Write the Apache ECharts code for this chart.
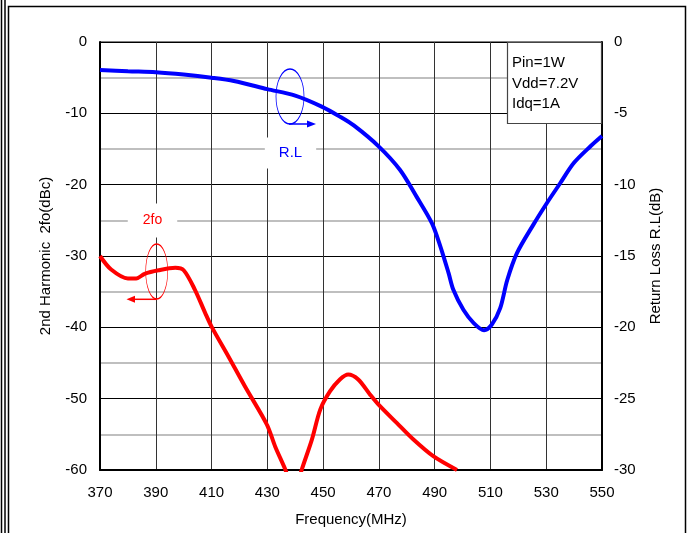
<!DOCTYPE html>
<html>
<head>
<meta charset="utf-8">
<script src="https://cdn.jsdelivr.net/npm/echarts@6/dist/echarts.min.js"></script>
<style>
  html, body { margin: 0; padding: 0; background: #fff; }
  #chart { width: 694px; height: 533px; }
</style>
</head>
<body>
<div id="chart"></div>
<script>
// Return loss R.L (dB, right axis) versus frequency (MHz)
const rlFreq = [370, 380, 390, 400, 410, 418, 430, 440, 449.5, 456, 461, 470, 477.6, 483.5, 489, 492, 495, 496.7, 500.3, 504, 507.7, 510.5, 513.5, 516, 519.5, 525.4, 530.2, 535, 539.8, 545.7, 550];
const rlValues = [-1.96, -2.05, -2.12, -2.28, -2.5, -2.73, -3.3, -3.76, -4.53, -5.23, -5.85, -7.33, -8.97, -10.84, -12.7, -14.3, -16.2, -17.37, -18.77, -19.7, -20.2, -19.8, -18.66, -16.7, -14.8, -12.8, -11.3, -9.9, -8.5, -7.34, -6.59];

// 2nd harmonic 2fo (dBc, left axis) versus frequency (MHz)
const h2Freq = [370, 374, 380, 383, 386, 391, 397, 400, 404, 407.7, 410, 416, 422, 429.8, 432.8, 436.3, 438, 439.5, 441, 442.3, 446, 449, 452.5, 456, 459, 462.6, 466.8, 469.8, 476.4, 482.3, 489.5, 498];
const h2Values = [-30.0, -31.9, -33.15, -33.15, -32.5, -32.0, -31.66, -32.0, -34.7, -37.97, -39.9, -44.05, -48.3, -53.6, -56.7, -59.8, -61.6, -62.4, -61.8, -60.0, -55.7, -51.5, -48.95, -47.3, -46.6, -47.3, -49.4, -50.8, -53.4, -55.7, -58.07, -60.0];

// Operating conditions
const conditions = ['Pin=1W', 'Vdd=7.2V', 'Idq=1A'];

const FONT = '"Liberation Sans", Arial, sans-serif';

const zip = (xs, ys) => xs.map((x, i) => [x, ys[i]]);

const chart = echarts.init(document.getElementById('chart'), null, { renderer: 'canvas' });

chart.setOption({
  animation: false,
  backgroundColor: '#fff',
  textStyle: { fontFamily: FONT, color: '#000' },
  grid: {
    left: 100, top: 42, width: 502, height: 428,
    show: true, borderColor: '#000', borderWidth: 1, backgroundColor: 'transparent'
  },
  xAxis: {
    type: 'value', min: 370, max: 550, interval: 20,
    name: 'Frequency(MHz)', nameLocation: 'middle', nameGap: 42,
    nameTextStyle: { fontFamily: FONT, fontSize: 15, color: '#000' },
    axisLine: { show: true, onZero: false, lineStyle: { color: '#000', width: 2 } },
    axisTick: { show: false },
    axisLabel: { fontFamily: FONT, fontSize: 15, color: '#000', margin: 15 },
    splitLine: { show: true, lineStyle: { color: '#333', width: 1 } }
  },
  yAxis: [
    {
      type: 'value', min: -60, max: 0, interval: 10, position: 'left',
      name: '2nd Harmonic  2fo(dBc)', nameLocation: 'middle', nameGap: 47, nameRotate: 90,
      nameTextStyle: { fontFamily: FONT, fontSize: 15, color: '#000' },
      axisLine: { show: true, onZero: false, lineStyle: { color: '#000', width: 2 } },
      axisTick: { show: false },
      axisLabel: { fontFamily: FONT, fontSize: 15, color: '#000', margin: 13 },
      splitLine: { show: true, lineStyle: { color: '#000', width: 1 } },
      minorTick: { show: false, splitNumber: 2 },
      minorSplitLine: { show: true, lineStyle: { color: '#aaa', width: 1.5 } }
    },
    {
      type: 'value', min: -30, max: 0, interval: 5, position: 'right',
      name: 'Return Loss R.L(dB)', nameLocation: 'middle', nameGap: 46, nameRotate: 90,
      nameTextStyle: { fontFamily: FONT, fontSize: 15, color: '#000' },
      axisLine: { show: true, onZero: false, lineStyle: { color: '#000', width: 2 } },
      axisTick: { show: false },
      axisLabel: { fontFamily: FONT, fontSize: 15, color: '#000', margin: 12 },
      splitLine: { show: false }
    }
  ],
  series: [
    {
      name: '2fo', type: 'line', yAxisIndex: 0, data: zip(h2Freq, h2Values),
      smooth: 0.3, showSymbol: false, clip: true,
      lineStyle: { color: '#ff0000', width: 4 }, z: 3
    },
    {
      name: 'R.L', type: 'line', yAxisIndex: 1, data: zip(rlFreq, rlValues),
      smooth: 0.3, showSymbol: false, clip: true,
      lineStyle: { color: '#0000ff', width: 4 }, z: 3
    }
  ],
  graphic: [
    // page frame
    { type: 'line', shape: { x1: 1.5, y1: 0, x2: 1.5, y2: 533 }, style: { stroke: '#000', lineWidth: 1.5 }, silent: true },
    { type: 'line', shape: { x1: 5, y1: 0, x2: 5, y2: 533 }, style: { stroke: '#000', lineWidth: 1.5 }, silent: true },
    { type: 'rect', shape: { x: 8.5, y: 6.5, width: 677, height: 560 }, style: { fill: 'none', stroke: '#000', lineWidth: 1.5 }, silent: true },

    // R.L label with its marker ellipse and arrow
    { type: 'text', x: 290.5, y: 153, z: 10,
      style: { text: 'R.L', fill: '#0000ff', font: '15px ' + FONT, align: 'center', verticalAlign: 'middle',
               backgroundColor: '#fff', padding: [8, 14, 8, 14] } },
    { type: 'circle', x: 290, y: 96.5, scaleX: 14 / 27.5, z: 10,
      shape: { cx: 0, cy: 0, r: 27.5 },
      style: { fill: 'none', stroke: '#0000ff', lineWidth: 1.5, strokeNoScale: true } },
    { type: 'line', z: 10, shape: { x1: 289, y1: 124, x2: 309, y2: 124 }, style: { stroke: '#0000ff', lineWidth: 1.5 } },
    { type: 'polygon', z: 10, shape: { points: [[316, 124], [307, 120.5], [307, 127.5]] }, style: { fill: '#0000ff' } },

    // 2fo label with its marker ellipse and arrow
    { type: 'text', x: 152.5, y: 220.5, z: 10,
      style: { text: '2fo', fill: '#ff0000', font: '14px ' + FONT, align: 'center', verticalAlign: 'middle',
               backgroundColor: '#fff', padding: [10, 15, 10, 15] } },
    { type: 'circle', x: 156.7, y: 271.5, scaleX: 11 / 27.5, z: 10,
      shape: { cx: 0, cy: 0, r: 27.5 },
      style: { fill: 'none', stroke: '#ff0000', lineWidth: 1.5, strokeNoScale: true } },
    { type: 'line', z: 10, shape: { x1: 157, y1: 299.3, x2: 133, y2: 299.3 }, style: { stroke: '#ff0000', lineWidth: 1.5 } },
    { type: 'polygon', z: 10, shape: { points: [[126.5, 299.3], [135, 295.8], [135, 302.8]] }, style: { fill: '#ff0000' } },

    // operating conditions box
    { type: 'rect', z: 10, shape: { x: 507.5, y: 42.5, width: 94, height: 81 },
      style: { fill: '#fff', stroke: '#444', lineWidth: 1.2 } },
    { type: 'text', z: 11, x: 512, y: 62.5,
      style: { text: conditions[0], fill: '#000', font: '15px ' + FONT, verticalAlign: 'middle' } },
    { type: 'text', z: 11, x: 512, y: 83.5,
      style: { text: conditions[1], fill: '#000', font: '15px ' + FONT, verticalAlign: 'middle' } },
    { type: 'text', z: 11, x: 512, y: 103.5,
      style: { text: conditions[2], fill: '#000', font: '15px ' + FONT, verticalAlign: 'middle' } }
  ]
});
</script>
</body>
</html>
